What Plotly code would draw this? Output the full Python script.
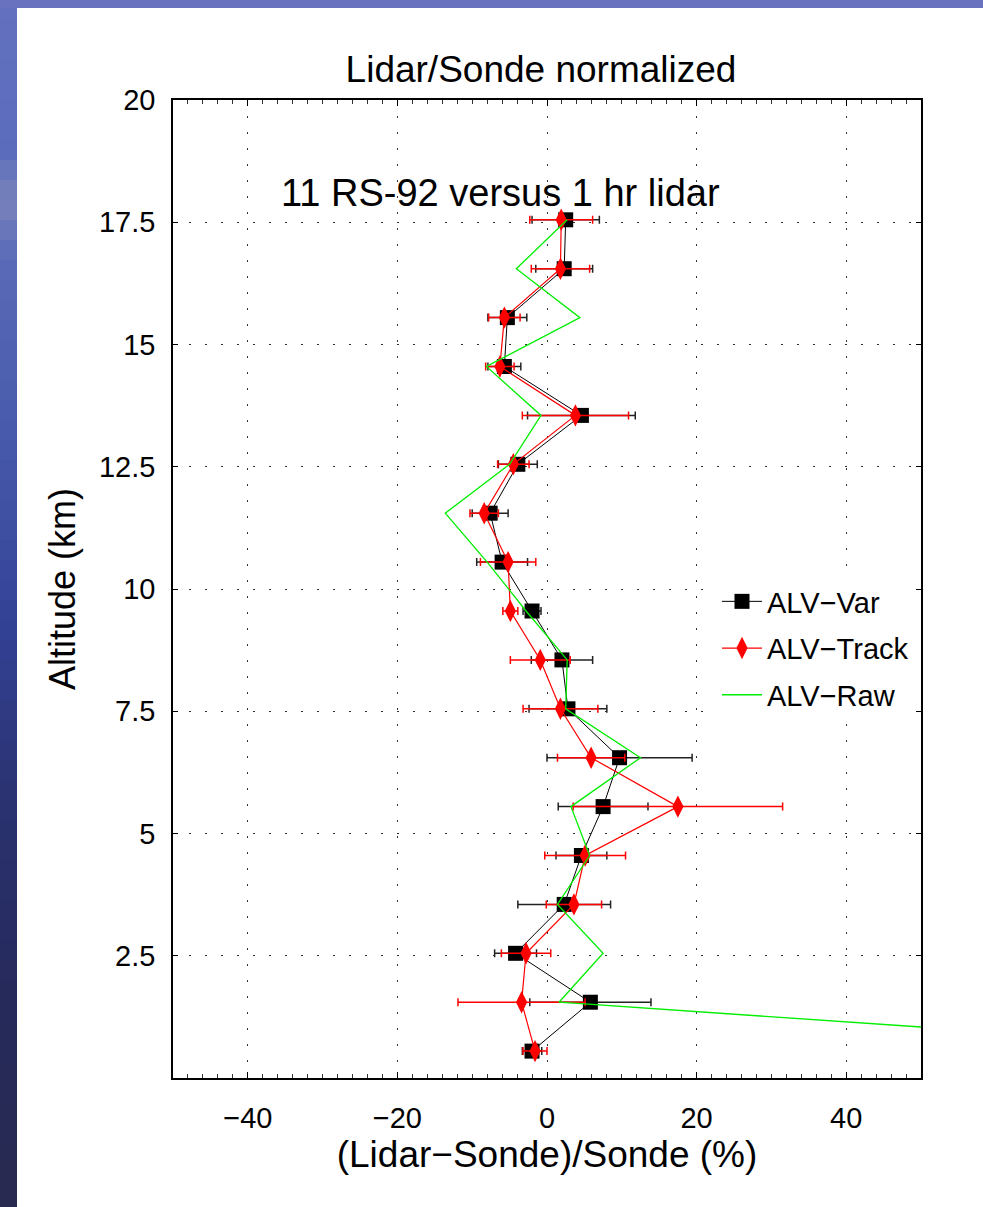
import plotly.graph_objects as go

# ---------------- data ----------------
altitude_km = [0.55, 1.55, 2.55, 3.55, 4.55, 5.55, 6.55, 7.55, 8.55,
               9.55, 10.55, 11.55, 12.55, 13.55, 14.55, 15.55, 16.55, 17.55]

alv_var = [-2.0, 5.8, -4.2, 2.3, 4.6, 7.5, 9.7, 2.8, 2.0,
           -2.0, -6.0, -7.6, -3.9, 4.6, -5.7, -5.3, 2.3, 2.5]
alv_var_err = [1.3, 8.1, 2.8, 6.2, 3.4, 6.0, 9.7, 5.2, 4.1,
               1.2, 3.4, 2.4, 2.6, 7.2, 2.2, 2.6, 3.8, 4.5]

alv_track = [-1.6, -3.4, -2.8, 3.6, 5.1, 17.5, 5.9, 1.8, -0.9,
             -4.9, -5.2, -8.4, -4.5, 3.8, -6.3, -5.7, 1.8, 1.9]
alv_track_err = [1.6, 8.5, 3.3, 3.7, 5.4, 14.0, 4.5, 5.0, 4.0,
                 1.0, 3.7, 1.9, 2.1, 7.1, 1.9, 2.1, 3.9, 4.2]

alv_raw = [97.0, 1.6, 7.5, 1.4, 5.7, 3.2, 12.5, 2.5, 2.7,
           -2.8, -8.0, -13.6, -5.0, -0.8, -8.1, 4.4, -4.1, 2.7]

x_tick_vals = [-40, -20, 0, 20, 40]
x_tick_text = ["\u221240", "\u221220", "0", "20", "40"]
y_tick_vals = [2.5, 5, 7.5, 10, 12.5, 15, 17.5, 20]
y_tick_text = ["2.5", "5", "7.5", "10", "12.5", "15", "17.5", "20"]

# ---------------- layout geometry ----------------
W, H = 983, 1207
L, R, T, B = 173, 921, 100, 1078   # plot area in px


def px_x(px):
    return (px - L) / (R - L)


def px_y(py):
    return (B - py) / (B - T)


FONT = "Arial, Liberation Sans, Helvetica, sans-serif"

fig = go.Figure()

fig.add_trace(go.Scatter(
    x=alv_var, y=altitude_km, mode="lines+markers", name="ALV\u2212Var",
    legendgroup="a",
    line=dict(color="black", width=1),
    marker=dict(symbol="square", size=15, color="black"),
    error_x=dict(type="data", array=alv_var_err, color="#222222",
                 thickness=1.5, width=4),
))
fig.add_trace(go.Scatter(
    x=alv_track, y=altitude_km, mode="lines+markers", name="ALV\u2212Track",
    legendgroup="b",
    line=dict(color="red", width=1.2),
    marker=dict(symbol="diamond-tall", size=16, color="red"),
    error_x=dict(type="data", array=alv_track_err, color="red",
                 thickness=1.5, width=4),
))
fig.add_trace(go.Scatter(
    x=alv_raw, y=altitude_km, mode="lines", name="ALV\u2212Raw",
    legendgroup="c",
    line=dict(color="#00ee00", width=1.3),
))

# background slide strips (left and top), gradient approximated by bands
stops = [(0, (100, 112, 192)), (150, (92, 108, 188)), (200, (120, 130, 186)),
         (260, (90, 106, 184)), (450, (70, 88, 170)), (620, (52, 66, 150)),
         (800, (42, 50, 112)), (1000, (38, 42, 90)), (1207, (40, 42, 80))]


def color_at(py):
    for (y0, c0), (y1, c1) in zip(stops[:-1], stops[1:]):
        if y0 <= py <= y1:
            t = (py - y0) / (y1 - y0)
            return "rgb(%d,%d,%d)" % tuple(round(a + (b - a) * t) for a, b in zip(c0, c1))
    return "rgb(40,42,80)"


shapes = []
band = 20
for y0 in range(0, H, band):
    y1 = min(H, y0 + band)
    shapes.append(dict(type="rect", xref="paper", yref="paper", layer="below",
                       x0=px_x(0), x1=px_x(17), y0=px_y(y1), y1=px_y(y0),
                       fillcolor=color_at((y0 + y1) / 2), line=dict(width=0)))
shapes.append(dict(type="rect", xref="paper", yref="paper", layer="below",
                   x0=px_x(0), x1=px_x(W), y0=px_y(8), y1=px_y(0),
                   fillcolor="rgb(104,114,190)", line=dict(width=0)))

fig.update_layout(
    width=W, height=H,
    margin=dict(l=L, r=W - R, t=T, b=H - B, pad=0),
    paper_bgcolor="white", plot_bgcolor="white",
    font=dict(family=FONT, color="black", size=28),
    title=dict(text="Lidar/Sonde normalized", x=px_x(541), xref="paper",
               xanchor="center", y=1 - 69 / H, yref="container", yanchor="middle",
               font=dict(size=37, family=FONT)),
    showlegend=True,
    legend=dict(x=px_x(717), y=px_y(576), xanchor="left", yanchor="top",
                bgcolor="white", borderwidth=0, font=dict(size=29, family=FONT),
                traceorder="grouped", tracegroupgap=6, itemwidth=40),
    shapes=shapes,
    annotations=[dict(text="11 RS-92 versus 1 hr lidar", x=px_x(500), y=px_y(170),
                      xref="paper", yref="paper", showarrow=False,
                      font=dict(size=38, family=FONT))],
)

fig.update_xaxes(
    range=[-50, 50], tickvals=x_tick_vals, ticktext=x_tick_text,
    showline=True, linecolor="black", linewidth=1.5, mirror="ticks",
    ticks="inside", ticklen=6, tickcolor="black", tickwidth=1,
    minor=dict(ticks="inside", ticklen=4, dtick=2, tickcolor="#333"),
    showgrid=True, gridcolor="#333", gridwidth=1, griddash="2px,14px",
    zeroline=False, tickfont=dict(size=29), ticklabelstandoff=13,
    title=dict(text="(Lidar\u2212Sonde)/Sonde (%)", font=dict(size=37), standoff=8),
)
fig.update_yaxes(
    range=[0, 20], tickvals=y_tick_vals, ticktext=y_tick_text,
    showline=True, linecolor="black", linewidth=1.5, mirror="ticks",
    ticks="inside", ticklen=5, tickcolor="black", tickwidth=1,
    showgrid=True, gridcolor="#333", gridwidth=1, griddash="2px,14px",
    zeroline=False, tickfont=dict(size=29), ticklabelstandoff=10,
    title=dict(text="Altitude (km)", font=dict(size=36), standoff=12),
)

fig.write_html("out.html")
